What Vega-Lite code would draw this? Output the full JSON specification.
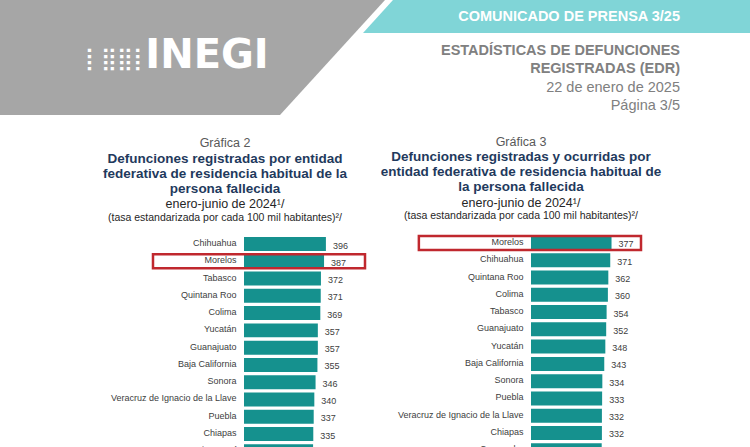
{
  "$schema": "https://vega.github.io/schema/vega-lite/v6.json",
  "padding": 0,
  "background": "white",
  "spacing": 20,
  "config": {"view": {"stroke": null}, "font": "Liberation Sans"},
  "datasets": {
    "header": [{"k": 1}],
    "g2": [
      {"entidad": "Chihuahua", "tasa": 396},
      {"entidad": "Morelos", "tasa": 387},
      {"entidad": "Tabasco", "tasa": 372},
      {"entidad": "Quintana Roo", "tasa": 371},
      {"entidad": "Colima", "tasa": 369},
      {"entidad": "Yucatán", "tasa": 357},
      {"entidad": "Guanajuato", "tasa": 357},
      {"entidad": "Baja California", "tasa": 355},
      {"entidad": "Sonora", "tasa": 346},
      {"entidad": "Veracruz de Ignacio de la Llave", "tasa": 340},
      {"entidad": "Puebla", "tasa": 337},
      {"entidad": "Chiapas", "tasa": 335},
      {"entidad": "San Luis Potosí", "tasa": 334}
    ],
    "g3": [
      {"entidad": "Morelos", "tasa": 377},
      {"entidad": "Chihuahua", "tasa": 371},
      {"entidad": "Quintana Roo", "tasa": 362},
      {"entidad": "Colima", "tasa": 360},
      {"entidad": "Tabasco", "tasa": 354},
      {"entidad": "Guanajuato", "tasa": 352},
      {"entidad": "Yucatán", "tasa": 348},
      {"entidad": "Baja California", "tasa": 343},
      {"entidad": "Sonora", "tasa": 334},
      {"entidad": "Puebla", "tasa": 333},
      {"entidad": "Veracruz de Ignacio de la Llave", "tasa": 332},
      {"entidad": "Chiapas", "tasa": 332},
      {"entidad": "Campeche", "tasa": 331}
    ]
  },
  "vconcat": [
    {
      "width": 506,
      "height": 115,
      "data": {"name": "header"},
      "layer": [
        {"mark": {"type": "point", "shape": "M-497,-57.5L-112,-57.5L-217,57.5L-497,57.5Z", "size": 4, "filled": true, "fill": "#a6a6a6", "opacity": 1, "strokeWidth": 0}, "encoding": {}},
        {"mark": {"type": "point", "shape": "M-104,-57.5L253,-57.5L253,-24.5L-134,-24.5Z", "size": 4, "filled": true, "fill": "#80d5d7", "opacity": 1, "strokeWidth": 0}, "encoding": {}},
        {"mark": {"type": "text", "text": "INEGI", "font": "DejaVu Sans", "fontWeight": "bold", "fontSize": 40, "color": "white", "align": "center", "baseline": "alphabetic", "dx": -290, "dy": 10}, "encoding": {}},
        {"mark": {"type": "text", "text": "⡇⣿⣿⡇", "font": "DejaVu Sans", "fontSize": 22, "color": "white", "align": "center", "baseline": "alphabetic", "dx": -380, "dy": 8}, "encoding": {}},
        {"mark": {"type": "text", "text": "COMUNICADO DE PRENSA 3/25", "font": "Liberation Sans", "fontWeight": "bold", "fontSize": 14.5, "color": "white", "align": "right", "baseline": "alphabetic", "dx": 183, "dy": -36.5}, "encoding": {}},
        {"mark": {"type": "text", "text": ["ESTADÍSTICAS DE DEFUNCIONES", "REGISTRADAS (EDR)"], "lineHeight": 18, "font": "Liberation Sans", "fontWeight": "bold", "fontSize": 14.5, "color": "#808080", "align": "right", "baseline": "alphabetic", "dx": 183, "dy": -2.5}, "encoding": {}},
        {"mark": {"type": "text", "text": ["22 de enero de 2025", "Página 3/5"], "lineHeight": 17.5, "font": "Liberation Sans", "fontSize": 14.5, "color": "#808080", "align": "right", "baseline": "alphabetic", "dx": 183, "dy": 34.5}, "encoding": {}}
      ]
    },
    {
      "spacing": 0,
      "hconcat": [
        {
          "title": {"text": "Gráfica 2", "subtitle": ["Defunciones registradas por entidad", "federativa de residencia habitual de la", "persona fallecida"], "anchor": "start", "align": "center", "frame": "group", "dx": -19, "font": "Liberation Sans", "fontSize": 12.5, "fontWeight": "normal", "color": "#595959", "subtitleFont": "Liberation Sans", "subtitleFontSize": 13.5, "subtitleFontWeight": "bold", "subtitleColor": "#1f3a5d", "subtitleLineHeight": 15, "subtitlePadding": 2, "offset": 3},
          "vconcat": [
            {
              "width": 121,
              "height": {"step": 17.27},
              "title": {"text": "enero-junio de 2024¹/", "subtitle": "(tasa estandarizada por cada 100 mil habitantes)²/", "anchor": "start", "align": "center", "frame": "group", "dx": -19, "font": "Liberation Sans", "fontSize": 12.5, "fontWeight": "normal", "color": "#262626", "subtitleFont": "Liberation Sans", "subtitleFontSize": 10.5, "subtitleColor": "#262626", "subtitlePadding": 2, "offset": 13},
              "data": {"name": "g2"},
              "encoding": {
                "y": {"field": "entidad", "type": "nominal", "sort": null, "scale": {"paddingInner": 0.19, "paddingOuter": 0.06}, "axis": {"title": null, "ticks": false, "domain": false, "labelFont": "Liberation Sans", "labelFontSize": 9, "labelColor": "#404040", "labelPadding": 8, "labelOffset": -1, "minExtent": 244}}
              },
              "layer": [
                {"mark": {"type": "bar", "color": "#15918e"}, "encoding": {"x": {"field": "tasa", "type": "quantitative", "scale": {"domain": [0, 585], "nice": false}, "axis": null}}},
                {"mark": {"type": "text", "align": "left", "baseline": "middle", "dx": 7, "dy": 1.5, "font": "Liberation Sans", "fontSize": 9, "color": "#404040"}, "encoding": {"x": {"field": "tasa", "type": "quantitative", "scale": {"domain": [0, 585], "nice": false}, "axis": null}, "text": {"field": "tasa", "type": "quantitative"}}},
                {"transform": [{"filter": "datum.entidad === 'Morelos'"}], "mark": {"type": "rect", "fillOpacity": 0, "stroke": "#c0282e", "strokeWidth": 2.5}, "encoding": {"x": {"datum": -440, "type": "quantitative", "scale": {"domain": [0, 585], "nice": false}, "axis": null}, "x2": {"datum": 585}}}
              ]
            }
          ]
        },
        {
          "title": {"text": "Gráfica 3", "subtitle": ["Defunciones registradas y ocurridas por", "entidad federativa de residencia habitual de", "la persona fallecida"], "anchor": "start", "align": "center", "frame": "group", "dx": -10, "font": "Liberation Sans", "fontSize": 12.5, "fontWeight": "normal", "color": "#595959", "subtitleFont": "Liberation Sans", "subtitleFontSize": 13.5, "subtitleFontWeight": "bold", "subtitleColor": "#1f3a5d", "subtitleLineHeight": 15, "subtitlePadding": 2, "offset": 3},
          "vconcat": [
            {
              "width": 110,
              "height": {"step": 17.27},
              "title": {"text": "enero-junio de 2024¹/", "subtitle": "(tasa estandarizada por cada 100 mil habitantes)²/", "anchor": "start", "align": "center", "frame": "group", "dx": -10, "font": "Liberation Sans", "fontSize": 12.5, "fontWeight": "normal", "color": "#262626", "subtitleFont": "Liberation Sans", "subtitleFontSize": 10.5, "subtitleColor": "#262626", "subtitlePadding": 2, "offset": 13},
              "data": {"name": "g3"},
              "encoding": {
                "y": {"field": "entidad", "type": "nominal", "sort": null, "scale": {"paddingInner": 0.19, "paddingOuter": 0}, "axis": {"title": null, "ticks": false, "domain": false, "labelFont": "Liberation Sans", "labelFontSize": 9, "labelColor": "#404040", "labelPadding": 8, "labelOffset": -1, "minExtent": 164}}
              },
              "layer": [
                {"mark": {"type": "bar", "color": "#15918e"}, "encoding": {"x": {"field": "tasa", "type": "quantitative", "scale": {"domain": [0, 515], "nice": false}, "axis": null}}},
                {"mark": {"type": "text", "align": "left", "baseline": "middle", "dx": 7, "dy": 1.5, "font": "Liberation Sans", "fontSize": 9, "color": "#404040"}, "encoding": {"x": {"field": "tasa", "type": "quantitative", "scale": {"domain": [0, 515], "nice": false}, "axis": null}, "text": {"field": "tasa", "type": "quantitative"}}},
                {"transform": [{"filter": "datum.entidad === 'Morelos'"}], "mark": {"type": "rect", "fillOpacity": 0, "stroke": "#c0282e", "strokeWidth": 2.5}, "encoding": {"x": {"datum": -525, "type": "quantitative", "scale": {"domain": [0, 515], "nice": false}, "axis": null}, "x2": {"datum": 515}}}
              ]
            }
          ]
        }
      ]
    }
  ]
}
